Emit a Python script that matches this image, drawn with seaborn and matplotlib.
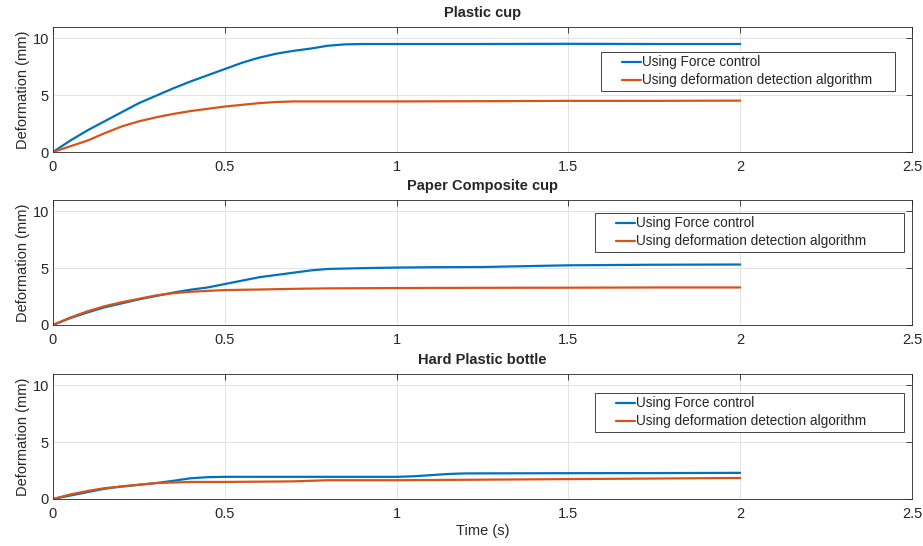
import matplotlib
matplotlib.use("Agg")
import matplotlib.pyplot as plt
from matplotlib.legend_handler import HandlerLine2D
import pandas as pd
import seaborn as sns

# Panel titles and series names
PANEL_TITLES = ["Plastic cup", "Paper Composite cup", "Hard Plastic bottle"]
SERIES = ["Using Force control", "Using deformation detection algorithm"]
COLORS = ["#0072BD", "#D95319"]

# Plastic cup
cup_force_t = [0, 0.05, 0.1, 0.15, 0.2, 0.25, 0.3, 0.35, 0.4, 0.45, 0.5, 0.55, 0.6, 0.65, 0.7, 0.75, 0.8, 0.85, 0.9, 1.0, 1.25, 1.5, 1.75, 2.0]
cup_force_d = [0, 1.0, 1.9, 2.7, 3.5, 4.3, 4.95, 5.6, 6.2, 6.75, 7.3, 7.85, 8.3, 8.65, 8.9, 9.1, 9.35, 9.47, 9.5, 9.5, 9.5, 9.52, 9.5, 9.5]
cup_algo_t = [0, 0.05, 0.1, 0.15, 0.2, 0.25, 0.3, 0.35, 0.4, 0.45, 0.5, 0.55, 0.6, 0.65, 0.7, 0.8, 1.0, 1.25, 1.5, 1.75, 2.0]
cup_algo_d = [0, 0.5, 1.0, 1.65, 2.25, 2.7, 3.05, 3.35, 3.6, 3.8, 4.0, 4.15, 4.3, 4.4, 4.45, 4.45, 4.45, 4.47, 4.5, 4.5, 4.52]

# Paper composite cup
paper_force_t = [0, 0.05, 0.1, 0.15, 0.2, 0.25, 0.3, 0.35, 0.4, 0.45, 0.5, 0.55, 0.6, 0.65, 0.7, 0.75, 0.8, 0.9, 1.0, 1.1, 1.25, 1.5, 1.75, 2.0]
paper_force_d = [0, 0.6, 1.1, 1.55, 1.9, 2.25, 2.55, 2.85, 3.1, 3.3, 3.6, 3.9, 4.2, 4.4, 4.6, 4.8, 4.93, 5.0, 5.05, 5.08, 5.1, 5.25, 5.3, 5.32]
paper_algo_t = [0, 0.05, 0.1, 0.15, 0.2, 0.25, 0.3, 0.35, 0.4, 0.45, 0.5, 0.6, 0.7, 0.8, 1.0, 1.25, 1.5, 1.75, 2.0]
paper_algo_d = [0, 0.65, 1.2, 1.65, 2.0, 2.3, 2.6, 2.8, 2.92, 3.0, 3.07, 3.12, 3.18, 3.22, 3.25, 3.27, 3.28, 3.3, 3.3]

# Hard plastic bottle
bottle_force_t = [0, 0.05, 0.1, 0.15, 0.2, 0.25, 0.3, 0.35, 0.4, 0.45, 0.5, 0.75, 1.0, 1.05, 1.1, 1.15, 1.2, 1.5, 1.75, 2.0]
bottle_force_d = [0, 0.3, 0.6, 0.9, 1.1, 1.25, 1.4, 1.6, 1.82, 1.92, 1.95, 1.95, 1.95, 2.0, 2.1, 2.2, 2.25, 2.27, 2.28, 2.3]
bottle_algo_t = [0, 0.05, 0.1, 0.15, 0.2, 0.25, 0.3, 0.35, 0.4, 0.5, 0.7, 0.8, 1.0, 1.25, 1.5, 1.75, 2.0]
bottle_algo_d = [0, 0.4, 0.7, 0.95, 1.1, 1.25, 1.4, 1.45, 1.5, 1.5, 1.55, 1.65, 1.65, 1.7, 1.75, 1.8, 1.85]

PANELS = [
    (cup_force_t, cup_force_d, cup_algo_t, cup_algo_d),
    (paper_force_t, paper_force_d, paper_algo_t, paper_algo_d),
    (bottle_force_t, bottle_force_d, bottle_algo_t, bottle_algo_d),
]

X_TICKS = [0, 0.5, 1, 1.5, 2, 2.5]
X_TICK_LABELS = ["0", "0.5", "1", "1.5", "2", "2.5"]
Y_TICKS = [0, 5, 10]

# axes boxes (left, bottom, width, height) and legend anchors (x0, y0, w, h) in axes coords
AXES_BOXES = [
    (0.0574, 0.7216, 0.9307, 0.229),
    (0.0574, 0.4048, 0.9307, 0.229),
    (0.0574, 0.0861, 0.9307, 0.229),
]
LEGEND_BOXES = [
    (0.638, 0.48, 0.342, 0.32),
    (0.631, 0.568, 0.36, 0.328),
    (0.631, 0.52, 0.36, 0.328),
]

sns.set_style("white")
plt.rcParams["font.family"] = ["Liberation Sans", "DejaVu Sans"]
FS = 10.5
LEG_FS = 9.8

fig = plt.figure(figsize=(9.23, 5.46), dpi=100)

for i, (title, panel) in enumerate(zip(PANEL_TITLES, PANELS)):
    ax = fig.add_axes(AXES_BOXES[i])
    ft, fd, at, ad = panel
    df = pd.concat([
        pd.DataFrame({"t": ft, "d": fd, "series": SERIES[0]}),
        pd.DataFrame({"t": at, "d": ad, "series": SERIES[1]}),
    ])
    sns.lineplot(data=df, x="t", y="d", hue="series", palette=COLORS,
                 linewidth=1.6, ax=ax, legend=False)

    ax.set_xlim(0, 2.5)
    ax.set_ylim(0, 11)
    ax.set_xticks(X_TICKS)
    ax.set_xticklabels(X_TICK_LABELS)
    ax.set_yticks(Y_TICKS)
    ax.grid(True, color="#e3e3e3", linewidth=0.7)
    ax.set_axisbelow(True)
    ax.tick_params(direction="in", length=4, width=0.6, top=True, right=True,
                   labelsize=FS, colors="#262626")
    ax.tick_params(axis="x", pad=6)
    ax.tick_params(axis="y", pad=3)
    for sp in ax.spines.values():
        sp.set_color("#262626")
        sp.set_linewidth(0.6)
        sp.set_visible(True)

    ax.set_title(title, fontsize=FS, fontweight="bold", pad=7)
    ax.set_ylabel("Deformation (mm)", fontsize=FS, labelpad=2)
    if i == 2:
        ax.set_xlabel("Time (s)", fontsize=FS, labelpad=2)
    else:
        ax.set_xlabel("")

    handles = [plt.Line2D([], [], color=c, linewidth=1.6) for c in COLORS]
    leg = ax.legend(handles, SERIES, loc="upper left", bbox_to_anchor=LEGEND_BOXES[i],
                    mode="expand", fontsize=LEG_FS, handlelength=2.7, handletextpad=0.05,
                    labelspacing=0.3, borderpad=0.25, borderaxespad=0,
                    handler_map={plt.Line2D: HandlerLine2D(xpad=1.3)},
                    fancybox=False, framealpha=1, edgecolor="#262626")
    leg.get_frame().set_linewidth(0.6)

fig.savefig("out.png", dpi=100)
